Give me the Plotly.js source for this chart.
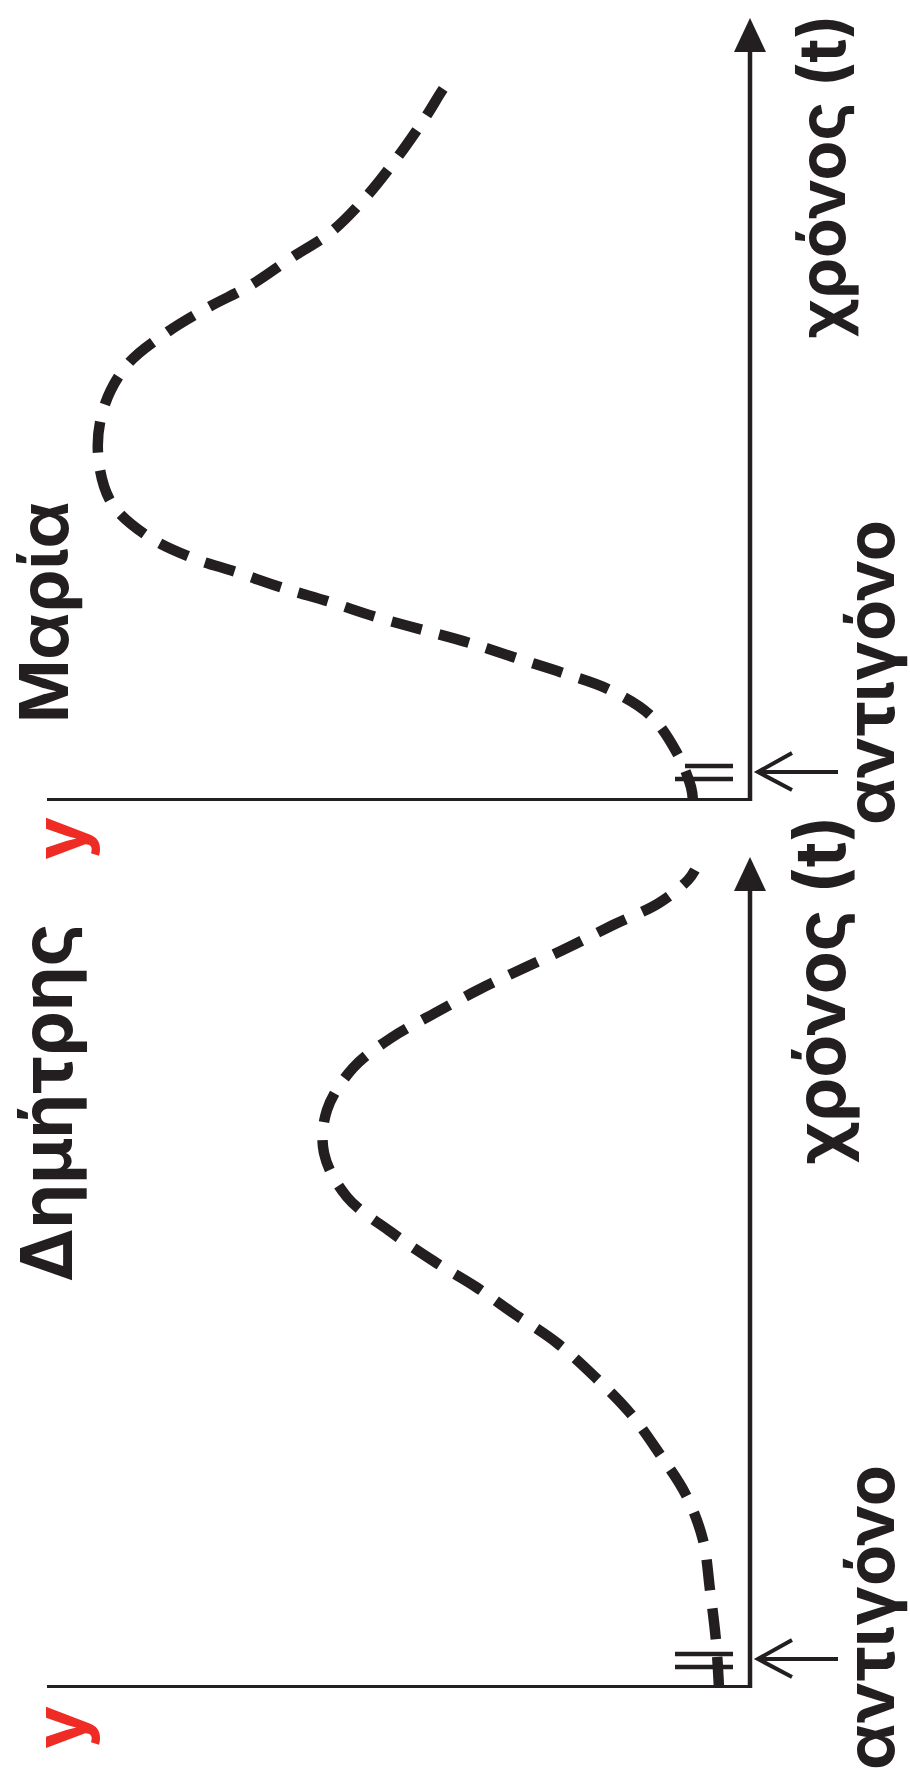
<!DOCTYPE html>
<html><head><meta charset="utf-8">
<script src="https://cdn.plot.ly/plotly-3.0.1.min.js"></script>
<style>html,body{margin:0;padding:0;background:#fff}#chart{width:910px;height:1778px}</style>
</head><body><div id="chart"></div>
<script>
// ---- data (original orientation: time t on the horizontal axis, level y on the vertical axis) ----
const panelNames = ['Μαρία', 'Δημήτρης'];
const mariaTime  = [0, 1.4, 4.8, 8.6, 11.1, 12.8, 14.3, 15.8, 17.1, 18.4, 19.9, 21.3, 22.9, 24.4, 26.6, 29.9, 34.8, 39.4, 43.6, 46.8, 49.3, 51.6, 54.3, 56.9, 60.4, 64.3, 68.3, 71.6, 72.4];
const mariaLevel = [5.7, 5.9, 7.3, 10.0, 14.0, 18.7, 23.4, 28.0, 32.7, 37.4, 42.0, 46.7, 51.4, 56.0, 60.4, 63.9, 65.2, 64.6, 62.3, 58.4, 54.3, 49.9, 45.9, 41.9, 38.4, 35.3, 32.5, 30.4, 29.6];
const dimitrisTime  = [0, 4.7, 9.8, 14.8, 19.3, 23.5, 27.5, 31.1, 34.5, 37.5, 40.1, 42.6, 45.6, 49.1, 53.5, 57.8, 62.0, 65.0, 67.5, 69.8, 72.0, 74.1, 76.3, 78.5, 80.8, 81.8];
const dimitrisLevel = [3.1, 3.4, 4.0, 4.7, 6.4, 9.1, 12.0, 15.5, 19.3, 23.7, 27.4, 31.5, 35.9, 40.3, 42.6, 42.3, 39.7, 35.9, 31.5, 27.2, 22.6, 18.1, 13.7, 9.1, 6.2, 5.5];
const timeLabel = 'χρόνος (t)';
const levelLabel = 'y';
const antigenLabel = 'αντιγόνο';
const antigenTime = [2.9, 2.9];           // antigen given (arrow) per panel
const breakTimes = [[3.5, 2.2], [3.4, 2.1]];

// ---- drawing ----
const W = 910, H = 1778;
const INK = '#231f20', RED = '#ee2b24';
const FONT = 'Inter';
const yaxes = ['y', 'y2'];
const timeMax = [78.3, 83.1];
const arrowBase = [74.9, 79.7];
const levelMax = 70.3;

const series = [[mariaTime, mariaLevel], [dimitrisTime, dimitrisLevel]];
const traces = series.map((s, i) => ({
  x: s[1], y: s[0], xaxis: 'x', yaxis: yaxes[i], type: 'scatter', mode: 'lines',
  line: {color: INK, width: 10.5, dash: '31px,18px', shape: 'spline', smoothing: 1},
  hoverinfo: 'skip'
}));

const shapes = [];
yaxes.forEach((ya, i) => {
  const base = {xref: 'x', yref: ya, layer: 'above'};
  shapes.push(Object.assign({}, base, {type: 'line', x0: levelMax, y0: 0, x1: 0, y1: 0, line: {color: INK, width: 6}}));
  shapes.push(Object.assign({}, base, {type: 'line', x0: 0, y0: 0, x1: 0, y1: arrowBase[i] + 0.5, line: {color: INK, width: 4.5}}));
  shapes.push(Object.assign({}, base, {type: 'path', path: `M -1.6,${arrowBase[i]} L 1.6,${arrowBase[i]} L 0,${timeMax[i]} Z`, fillcolor: INK, line: {width: 0}}));
  breakTimes[i].forEach((t, k) => {
    shapes.push(Object.assign({}, base, {type: 'line', x0: (i === 0 && k === 0) ? 6.5 : 7.5, y0: t, x1: 1.7, y1: t, line: {color: INK, width: 4.5}}));
  });
  const t = antigenTime[i];
  shapes.push(Object.assign({}, base, {type: 'line', x0: -8.8, y0: t, x1: -0.8, y1: t, line: {color: INK, width: 4}}));
  shapes.push(Object.assign({}, base, {type: 'path', path: `M -4.2,${t + 1.9} L -0.8,${t} L -4.2,${t - 1.8}`, line: {color: INK, width: 4}}));
});

function ann(text, px, py, size, color) {
  return {text: text, xref: 'paper', yref: 'paper', x: px / W, y: 1 - py / H, xanchor: 'center', yanchor: 'middle',
    textangle: -90, showarrow: false, font: {family: FONT, size: size, color: color, weight: 700}};
}
const annotations = [
  ann(panelNames[0], 43, 612, 68, INK),
  ann(panelNames[1], 45, 1103, 72, INK),
  ann(levelLabel, 58, 838, 72, RED),
  ann(levelLabel, 58, 1727, 72, RED),
  ann(timeLabel, 821, 176, 65, INK),
  ann(timeLabel, 820, 990, 70, INK),
  ann(antigenLabel, 869, 673, 67, INK),
  ann(antigenLabel, 869, 1618, 67, INK)
];

const layout = {
  width: W, height: H, margin: {l: 0, r: 0, t: 0, b: 0},
  paper_bgcolor: '#fff', plot_bgcolor: 'rgba(0,0,0,0)', showlegend: false,
  xaxis: {range: [75, -16], domain: [0, 1], visible: false, fixedrange: true},
  yaxis: {range: [0, 80.1], domain: [1 - 801 / H, 1], visible: false, fixedrange: true},
  yaxis2: {range: [0, 83.8], domain: [1 - 1688 / H, 1 - 850 / H], visible: false, fixedrange: true},
  shapes: shapes, annotations: annotations
};
Plotly.newPlot('chart', traces, layout, {staticPlot: true, displayModeBar: false});
</script></body></html>
